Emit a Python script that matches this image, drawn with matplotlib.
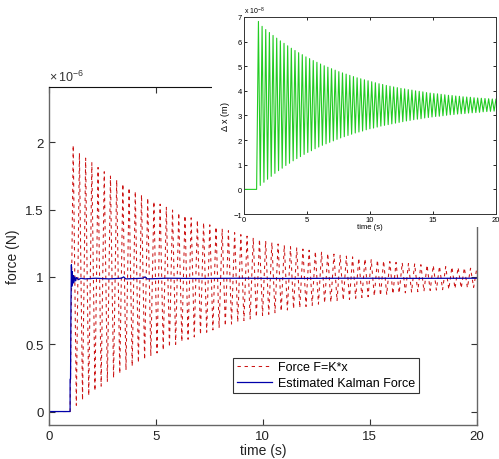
import numpy as np
import matplotlib
matplotlib.use("Agg")
import matplotlib.pyplot as plt

plt.rcParams['font.family'] = ['Liberation Sans', 'DejaVu Sans']
plt.rcParams['mathtext.fontset'] = 'custom'
plt.rcParams['mathtext.rm'] = 'Liberation Sans'

# displacement peaks / troughs per cycle (x 1e-8 m)
t_switch = 1.0
half_period = 0.145
x_peaks = [6.82, 6.62, 6.49, 6.37, 6.25, 6.14, 6.03, 5.93, 5.83, 5.73,
           5.64, 5.55, 5.47, 5.38, 5.31, 5.23, 5.16, 5.09, 5.02, 4.96,
           4.90, 4.84, 4.78, 4.73, 4.68, 4.63, 4.58, 4.53, 4.49, 4.45,
           4.41, 4.37, 4.33, 4.29, 4.26, 4.22, 4.19, 4.16, 4.13, 4.10,
           4.08, 4.05, 4.03, 4.00, 3.98, 3.96, 3.93, 3.91, 3.89, 3.88,
           3.86, 3.84, 3.82, 3.81, 3.79, 3.78, 3.76, 3.75, 3.74, 3.72,
           3.71, 3.70, 3.69, 3.68, 3.67, 3.66]
x_troughs = [0.16, 0.29, 0.41, 0.53, 0.65, 0.76, 0.86, 0.97, 1.06, 1.16,
             1.25, 1.33, 1.42, 1.50, 1.57, 1.65, 1.72, 1.79, 1.85, 1.91,
             1.97, 2.03, 2.09, 2.14, 2.19, 2.24, 2.29, 2.33, 2.37, 2.42,
             2.46, 2.49, 2.53, 2.57, 2.60, 2.63, 2.66, 2.69, 2.72, 2.75,
             2.78, 2.80, 2.83, 2.85, 2.87, 2.90, 2.92, 2.94, 2.96, 2.97,
             2.99, 3.01, 3.03, 3.04, 3.06, 3.07, 3.08, 3.10, 3.11, 3.12,
             3.13, 3.15, 3.16, 3.17, 3.18]
K = 0.29  # F = K*x, (1e-6 N) per (1e-8 m)

# Kalman force estimate (x 1e-6 N)
t_kal = [0, 1.0, 1.0, 1.02, 1.04, 1.06, 1.08, 1.10, 1.12, 1.15, 1.18, 1.22,
         1.26, 1.30, 1.40, 1.50, 1.70, 2.2, 2.8, 3.4, 3.5, 3.6, 4.4, 4.5,
         4.6, 5.5, 7.0, 9.0, 11.0, 14.0, 17.0, 20.0]
f_kal = [0, 0, 0.24, 0.24, 0.80, 1.09, 0.93, 1.04, 0.95, 1.01, 0.96, 1.00,
         0.97, 0.995, 0.98, 0.99, 0.985, 0.99, 0.985, 0.99, 1.0, 0.985, 0.99,
         1.0, 0.985, 0.99, 0.988, 0.99, 0.988, 0.99, 0.989, 0.99]

# assemble the zigzag through the read peaks/troughs
t_disp = [0.0, t_switch]
x_disp = [0.0, 0.0]
for j, pk in enumerate(x_peaks):
    t_disp.append(t_switch + half_period * (2 * j + 1))
    x_disp.append(pk)
    if j < len(x_troughs):
        t_disp.append(t_switch + half_period * (2 * j + 2))
        x_disp.append(x_troughs[j])
t_disp = np.array(t_disp)
x_disp = np.array(x_disp)
f_disp = K * x_disp

fig = plt.figure(figsize=(4.99, 4.60), dpi=100)

# main axes
ax = fig.add_axes([0.0976, 0.0739, 0.858, 0.7348])
ax.plot(t_disp, f_disp, color='#cc1515', lw=0.75, dashes=(3.2, 3.6),
        label='Force F=K*x')
ax.plot(t_kal, f_kal, color='#0000aa', lw=0.9, label='Estimated Kalman Force')
ax.set_xlim(0, 20)
ax.set_ylim(-0.1, 2.41)
ax.set_xticks([0, 5, 10, 15, 20])
ax.set_yticks([0, 0.5, 1, 1.5, 2])
ax.set_yticklabels(['0', '0.5', '1', '1.5', '2'])
ax.tick_params(direction='in', top=True, right=True, length=4, width=0.8,
               labelsize=9.5, colors='#333333', labelcolor='#222222')
for s in ['left', 'bottom', 'right']:
    ax.spines[s].set_color('#666666')
    ax.spines[s].set_linewidth(1.0)
ax.spines['top'].set_color('#111111')
ax.set_xlabel('time (s)', fontsize=10, labelpad=1, color='#222222')
ax.set_ylabel('force (N)', fontsize=10, labelpad=4, color='#222222')
ax.text(0.0, 1.008, r'$\times\,10^{-6}$', transform=ax.transAxes,
        fontsize=9, va='bottom', ha='left', color='#333333')
leg = ax.legend(loc='lower left', bbox_to_anchor=(0.43, 0.095), fontsize=9,
                frameon=True, fancybox=False, borderpad=0.3, handlelength=2.8,
                handletextpad=0.5, labelspacing=0.3, borderaxespad=0)
leg.get_frame().set_edgecolor('black')
leg.get_frame().set_linewidth(0.8)

# white patch of the pasted inset figure
cover = fig.add_axes([0.4248, 0.5043, 0.5752, 0.4957])
cover.set_facecolor('white')
cover.set_xticks([])
cover.set_yticks([])
for s in cover.spines.values():
    s.set_visible(False)
cover.set_zorder(2)

# inset
ins = fig.add_axes([0.489, 0.5326, 0.505, 0.4283])
ins.set_zorder(3)
ins.plot(t_disp, x_disp, color='#22cc22', lw=0.8)
ins.set_xlim(0, 20)
ins.set_ylim(-1, 7)
ins.set_xticks([0, 5, 10, 15, 20])
ins.set_yticks(range(-1, 8))
ins.tick_params(direction='in', top=True, right=True, length=2.5, width=0.6,
                labelsize=5.5, pad=1.5)
for s in ins.spines.values():
    s.set_color('#333333')
    s.set_linewidth(0.7)
ins.set_xlabel('time (s)', fontsize=5.5, labelpad=0)
ins.set_ylabel(r'$\Delta$ x (m)', fontsize=6.5, labelpad=1)
ins.text(0.0, 1.005, r'x 10$^{-8}$', transform=ins.transAxes, fontsize=5,
         va='bottom', ha='left')

fig.savefig('out.png', dpi=100)
